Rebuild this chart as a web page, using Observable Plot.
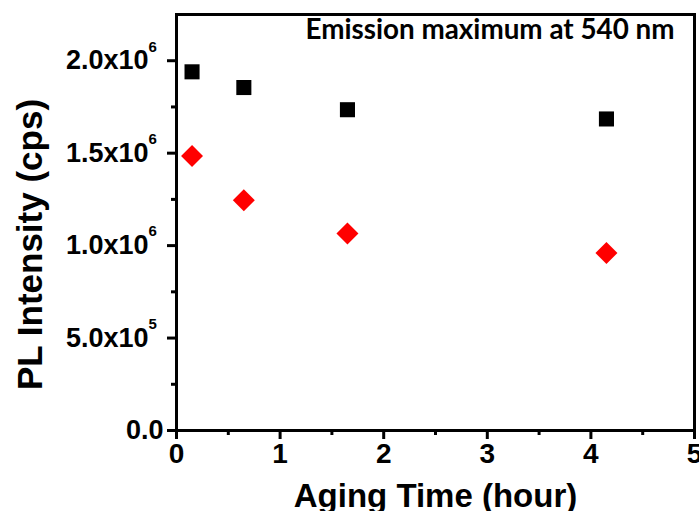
<!DOCTYPE html>
<html><head><meta charset="utf-8">
<script src="https://cdn.jsdelivr.net/npm/d3@7"></script>
<script src="https://cdn.jsdelivr.net/npm/@observablehq/plot@0.6"></script>
<style>body{margin:0;background:#fff}#chart svg{overflow:visible}</style>
</head><body><div id="chart"></div>
<script>
const agingTime = [0.15, 0.65, 1.65, 4.15];
const squareSeries = [1.94e6, 1.855e6, 1.735e6, 1.685e6];
const diamondSeries = [1.485e6, 1.245e6, 1.065e6, 0.96e6];
const yTickValues = [0, 5e5, 1e6, 1.5e6, 2e6];
const yTickBase = ["0.0", "5.0x10", "1.0x10", "1.5x10", "2.0x10"];
const yTickExp = ["", "5", "6", "6", "6"];
const yMinorTicks = [2.5e5, 7.5e5, 1.25e6, 1.75e6];
const xTickValues = [0, 1, 2, 3, 4, 5];
const xMinorTicks = [0.5, 1.5, 2.5, 3.5, 4.5];
const xLabel = "Aging Time (hour)";
const yLabel = "PL Intensity (cps)";
const annotation = "Emission maximum at 540 nm";

const yTicks = yTickValues.map((v, i) => ({v, base: yTickBase[i], exp: yTickExp[i]}));
const squares = agingTime.map((t, i) => ({t, v: squareSeries[i]}));
const diamonds = agingTime.map((t, i) => ({t, v: diamondSeries[i]}));
const F = "Liberation Sans, Arial, sans-serif";

const chart = Plot.plot({
  width: 699, height: 511,
  marginLeft: 176, marginRight: 5, marginTop: 14, marginBottom: 81,
  style: {fontFamily: F, background: "#fff", color: "#000"},
  x: {domain: [0, 5]},
  y: {domain: [0, 2.25e6]},
  marks: [
    Plot.axisX({ticks: xTickValues, tickFormat: d3.format("d"), tickSize: 9, strokeWidth: 3, tickPadding: 4, fontSize: 28, fontWeight: "bold", fontFamily: F, label: null}),
    Plot.axisX({ticks: xMinorTicks, tickSize: 5, strokeWidth: 3, tickFormat: () => "", label: null}),
    Plot.axisY({ticks: yTickValues, tickSize: 9, strokeWidth: 3, tickFormat: () => "", label: null}),
    Plot.axisY({ticks: yMinorTicks, tickSize: 5, strokeWidth: 3, tickFormat: () => "", label: null}),
    Plot.text(yTicks.filter(d => d.exp === ""), {y: "v", text: "base", frameAnchor: "left", textAnchor: "end", lineAnchor: "middle", dx: -13, fontSize: 27, fontWeight: "bold", fontFamily: F}),
    Plot.text(yTicks.filter(d => d.exp !== ""), {y: "v", text: "base", frameAnchor: "left", textAnchor: "end", lineAnchor: "middle", dx: -28, fontSize: 27, fontWeight: "bold", fontFamily: F}),
    Plot.text(yTicks.filter(d => d.exp !== ""), {y: "v", text: "exp", frameAnchor: "left", textAnchor: "start", lineAnchor: "middle", dx: -28, dy: -14, fontSize: 15, fontWeight: "bold", fontFamily: F}),
    Plot.frame({stroke: "#000", strokeWidth: 3}),
    Plot.dot(squares, {x: "t", y: "v", symbol: "square", r: 8.5, fill: "#000", stroke: null}),
    Plot.dot(diamonds, {x: "t", y: "v", symbol: "diamond2", r: 9.9, fill: "#ff0000", stroke: null}),
    Plot.text([annotation], {frameAnchor: "top-right", textAnchor: "end", lineAnchor: "bottom", dx: -20, dy: 24, fontSize: 27.8, fontWeight: "bold", fontFamily: "Lato, sans-serif"}),
    Plot.text([yLabel], {frameAnchor: "left", textAnchor: "middle", rotate: -90, dx: -146, dy: 22, fontSize: 35, fontWeight: "bold", fontFamily: F}),
    Plot.text([xLabel], {frameAnchor: "bottom", textAnchor: "middle", lineAnchor: "bottom", dy: 76, fontSize: 33, fontWeight: "bold", fontFamily: F})
  ]
});
document.getElementById("chart").append(chart);
</script></body></html>
